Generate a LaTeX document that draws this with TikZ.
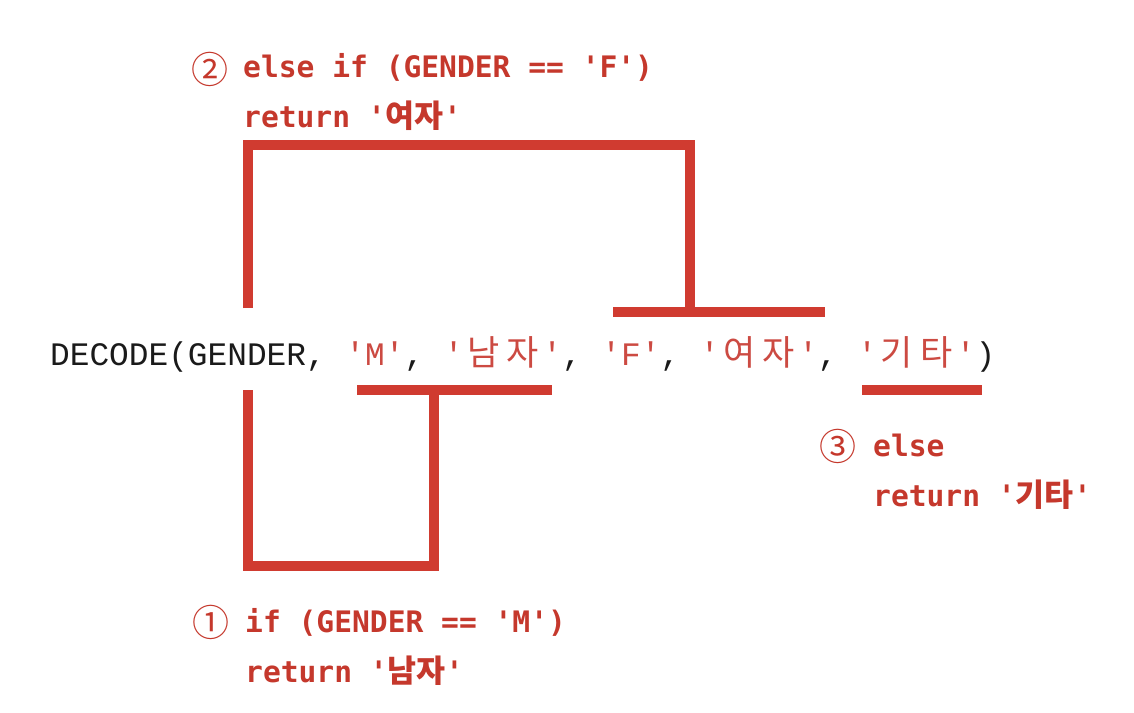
\documentclass[tikz,border=0pt]{standalone}
\usepackage{fontspec}
\newfontfamily\codefont{Liberation Mono}
\newfontfamily\lblfont{DejaVu Sans Mono}
\newfontfamily\kr{Noto Sans CJK KR}
\definecolor{barred}{HTML}{D03B30}
\definecolor{lblred}{HTML}{C5382C}
\definecolor{codered}{HTML}{CC4A42}
\definecolor{codeblack}{HTML}{1A1A1A}
\newcommand\kc[1]{\makebox[39.4pt][c]{\kr\fontsize{35}{35}\selectfont #1}}
\newcommand\kb[1]{{\kr\bfseries\fontsize{31.5}{36}\selectfont #1}}
\newcommand\rd[1]{\textcolor{codered}{#1}}
\frenchspacing
\begin{document}
\begin{tikzpicture}[x=1pt,y=-1pt,
  bar/.style={draw=barred, line width=10pt, line join=miter},
  codetext/.style={inner sep=0pt, anchor=base west, text=codeblack,
    font=\codefont\fontsize{32.8}{40}\selectfont},
  lbltext/.style={inner sep=0pt, anchor=base west, text=lblred,
    font=\lblfont\bfseries\fontsize{29.6}{36}\selectfont},
  circnum/.style={inner sep=0pt, text=lblred,
    font=\kr\fontsize{37}{37}\selectfont}]
\useasboundingbox[fill=white] (0,0) rectangle (1134,712);

% main expression
\node[codetext] (decode) at (50,365)
  {DECODE(GENDER, \rd{'M'}, \rd{'\kc{남}\kc{자}'}, \rd{'F'}, \rd{'\kc{여}\kc{자}'}, \rd{'\kc{기}\kc{타}'})};

% label 2 (top)
\node[circnum] (c2) at (210,69) {②};
\node[lbltext] (l2a) at (243,77) {else if (GENDER == 'F')};
\node[lbltext] (l2b) at (243,127) {return '\kb{여자}'};

% label 1 (bottom)
\node[circnum] (c1) at (211,622) {①};
\node[lbltext] (l1a) at (245,632) {if (GENDER == 'M')};
\node[lbltext] (l1b) at (245,682) {return '\kb{남자}'};

% label 3 (right)
\node[circnum] (c3) at (838,446) {③};
\node[lbltext] (l3a) at (873,456) {else};
\node[lbltext] (l3b) at (873,506) {return '\kb{기타}'};

% bracket coordinates
\coordinate (tA) at (248,308);
\coordinate (tB) at (248,145);
\coordinate (tC) at (690,145);
\coordinate (tD) at (690,312);
\coordinate (fL) at (613,312);
\coordinate (fR) at (825,312);

\coordinate (bA) at (248,390);
\coordinate (bB) at (248,566);
\coordinate (bC) at (434,566);
\coordinate (bD) at (434,390);
\coordinate (mL) at (357,390);
\coordinate (mR) at (552,390);

\coordinate (eL) at (862,390);
\coordinate (eR) at (982,390);

\draw[bar] (tA) -- (tB) -- (tC) -- (tD);
\draw[bar] (fL) -- (fR);
\draw[bar] (bA) -- (bB) -- (bC) -- (bD);
\draw[bar] (mL) -- (mR);
\draw[bar] (eL) -- (eR);
\end{tikzpicture}
\end{document}
